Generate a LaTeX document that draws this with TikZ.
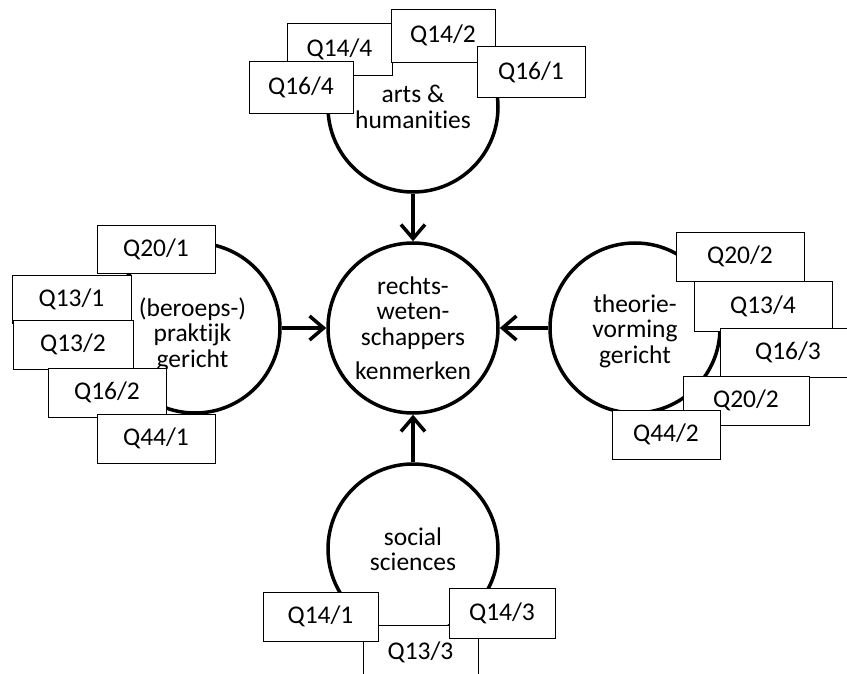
\documentclass[tikz,border=0pt]{standalone}
\usepackage{fontspec}
\setmainfont{Carlito}[Ligatures=CommonOff]
\usetikzlibrary{arrows.meta}
\begin{document}
\begin{tikzpicture}[x=1pt,y=-1pt,
  txt/.style={font=\fontsize{25.5}{25.5}\selectfont},
  topic/.style={txt,circle,draw,line width=3.5pt,minimum size=170pt,inner sep=0pt,align=center},
  qbox/.style={txt,draw,fill=white,line width=0.8pt,inner sep=0pt,outer sep=0pt},
  arr/.style={line width=3.5pt,-{Straight Barb[length=14pt,width=24pt]}}]
\useasboundingbox (0,0) rectangle (847,674);
% circles
\node[topic] (center) at (413,328) {rechts-\\weten-\\schappers\\[9pt]kenmerken};
\node[topic] (arts) at (413,107) {arts \&\\humanities};
\node[topic] (prak) at (195,328) {\rule{0pt}{32pt}\hspace*{-5pt}(beroeps-)\\\hspace*{-5pt}praktijk\\\hspace*{-5pt}gericht};
\node[topic] (theo) at (635,328) {\rule{0pt}{24pt}theorie-\\vorming\\gericht};
\node[topic] (soc) at (413,549) {social\\sciences};
% arrows
\draw[arr] (arts) -- (center);
\draw[arr] (prak) -- (center);
\draw[arr] (theo) -- (center);
\draw[arr] (soc) -- (center);
% top boxes
\node[qbox,minimum width=105pt,minimum height=52pt] (t1) at (339.5,49) {Q14/4};
\node[qbox,minimum width=104pt,minimum height=53pt] (t2) at (443,35.5) {Q14/2};
\node[qbox,minimum width=104pt,minimum height=52pt] (t3) at (301,87) {Q16/4};
\node[qbox,minimum width=108pt,minimum height=51pt] (t4) at (531,72) {Q16/1};
% left boxes
\node[qbox,minimum width=118pt,minimum height=48pt] (l1) at (156,249) {Q20/1};
\node[qbox,minimum width=119pt,minimum height=48pt] (l2) at (71.5,299) {Q13/1};
\node[qbox,minimum width=120pt,minimum height=49pt] (l3) at (73,344.5) {Q13/2};
\node[qbox,minimum width=118pt,minimum height=49pt] (l4) at (107,392.5) {Q16/2};
\node[qbox,minimum width=118pt,minimum height=49pt] (l5) at (156,438.5) {Q44/1};
% right boxes
\node[qbox,minimum width=128pt,minimum height=49pt] (r1) at (740,256.5) {Q20/2};
\node[qbox,minimum width=138pt,minimum height=50pt] (r2) at (763,306) {Q13/4};
\node[qbox,minimum width=136pt,minimum height=49pt] (r3) at (788,352.5) {Q16/3};
\node[qbox,minimum width=126pt,minimum height=49pt] (r4) at (746,400.5) {Q20/2};
\node[qbox,minimum width=108pt,minimum height=49pt] (r5) at (666,434.5) {Q44/2};
% bottom boxes
\node[qbox,minimum width=115pt,minimum height=54pt] (b3) at (420.5,652) {Q13/3};
\node[qbox,minimum width=115pt,minimum height=49pt] (b1) at (320.5,616.5) {Q14/1};
\node[qbox,minimum width=106pt,minimum height=50pt] (b2) at (502,613) {Q14/3};
\end{tikzpicture}
\end{document}
